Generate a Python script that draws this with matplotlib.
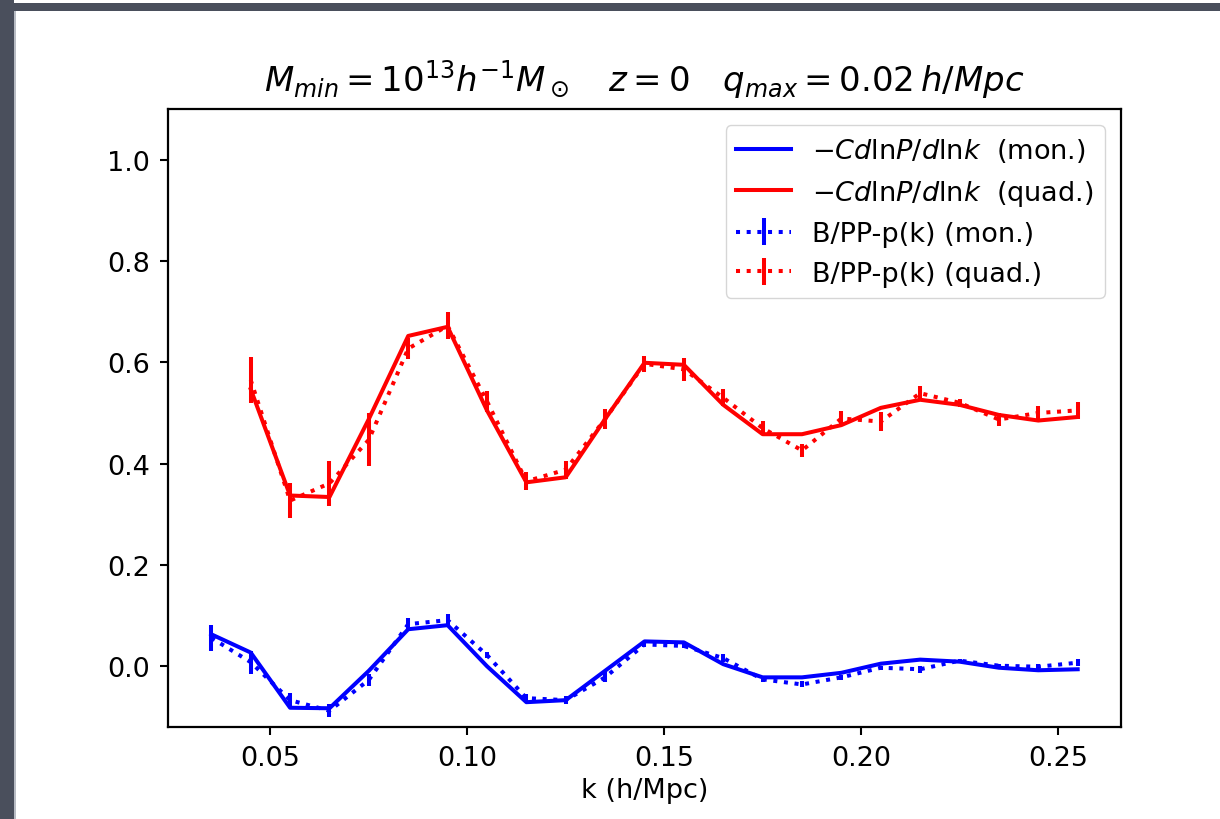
import numpy as np
import matplotlib
matplotlib.use("Agg")
import matplotlib.pyplot as plt
from matplotlib.patches import Rectangle

# k bins (h/Mpc)
k = [0.035, 0.045, 0.055, 0.065, 0.075, 0.085, 0.095, 0.105, 0.115, 0.125, 0.135, 0.145,
     0.155, 0.165, 0.175, 0.185, 0.195, 0.205, 0.215, 0.225, 0.235, 0.245, 0.255]

# -C dlnP/dlnk, monopole and quadrupole (quad starts at second bin)
resp_mon = [0.063, 0.027, -0.082, -0.083, -0.009, 0.073, 0.081, 0.000, -0.071, -0.067, -0.009, 0.049,
            0.047, 0.004, -0.022, -0.022, -0.013, 0.005, 0.013, 0.009, -0.003, -0.008, -0.006]
resp_quad = [0.547, 0.337, 0.334, 0.488, 0.652, 0.670, 0.505, 0.363, 0.373, 0.488, 0.599,
             0.595, 0.516, 0.458, 0.458, 0.476, 0.510, 0.526, 0.516, 0.496, 0.485, 0.492]

# B/PP - p(k) measurements with errors
bpp_mon = [0.056, 0.008, -0.067, -0.088, -0.027, 0.083, 0.091, 0.022, -0.063, -0.067, -0.022, 0.043,
           0.040, 0.016, -0.026, -0.036, -0.022, -0.003, -0.006, 0.011, 0.001, -0.001, 0.007]
bpp_mon_err = [0.026, 0.023, 0.015, 0.013, 0.012, 0.013, 0.012, 0.006, 0.008, 0.008, 0.010, 0.005,
               0.005, 0.008, 0.005, 0.006, 0.005, 0.004, 0.007, 0.004, 0.004, 0.005, 0.007]
bpp_quad = [0.565, 0.327, 0.361, 0.447, 0.627, 0.672, 0.523, 0.365, 0.388, 0.488, 0.597,
            0.586, 0.530, 0.470, 0.426, 0.489, 0.483, 0.539, 0.520, 0.487, 0.500, 0.505]
bpp_quad_err = [0.045, 0.034, 0.045, 0.052, 0.020, 0.027, 0.021, 0.018, 0.018, 0.020, 0.016,
                0.022, 0.017, 0.014, 0.013, 0.014, 0.019, 0.015, 0.008, 0.012, 0.013, 0.017]

plt.rcParams["font.size"] = 19.5

fig = plt.figure(figsize=(12.2, 8.2), dpi=100)
fig.patch.set_facecolor("white")
# slide border from the screenshot
fig.patches.append(Rectangle((0, 0), 14 / 1220, 1, transform=fig.transFigure,
                             facecolor="#4a4f5c", edgecolor="none", zorder=0))
fig.patches.append(Rectangle((0, 1 - 11.5 / 820), 1, 8 / 820, transform=fig.transFigure,
                             facecolor="#4a4f5c", edgecolor="none", zorder=0))
fig.patches.append(Rectangle((14 / 1220, 0), 1.5 / 1220, 1 - 11.5 / 820, transform=fig.transFigure,
                             facecolor="#b8bcc4", edgecolor="none", zorder=0))

ax = fig.add_axes([168 / 1220, 1 - 728 / 820, (1121 - 168) / 1220, (728 - 110) / 820])

lw = 2.9
ax.plot(k, resp_mon, color="b", lw=lw, label=r"$-Cd\mathrm{ln}P/d\mathrm{ln}k$  (mon.)")
ax.plot(k[1:], resp_quad, color="r", lw=lw, label=r"$-Cd\mathrm{ln}P/d\mathrm{ln}k$  (quad.)")
ax.errorbar(k, bpp_mon, yerr=bpp_mon_err, color="b", ls=":", lw=lw, elinewidth=lw,
            label="B/PP-p(k) (mon.)")
ax.errorbar(k[1:], bpp_quad, yerr=bpp_quad_err, color="r", ls=":", lw=lw, elinewidth=lw,
            label="B/PP-p(k) (quad.)")

ax.set_ylim(-0.12, 1.1)
ax.set_xticks([0.05, 0.10, 0.15, 0.20, 0.25])
ax.set_xticklabels(["0.05", "0.10", "0.15", "0.20", "0.25"])
ax.set_yticks([0.0, 0.2, 0.4, 0.6, 0.8, 1.0])
ax.set_yticklabels(["0.0", "0.2", "0.4", "0.6", "0.8", "1.0"])
ax.tick_params(width=1.5, length=6, pad=7)
for s in ax.spines.values():
    s.set_linewidth(1.6)

ax.set_xlabel("k (h/Mpc)", labelpad=4)
ax.set_title(r"$M_{min}=10^{13}h^{-1}M_\odot\ \ \ z=0\ \ \ q_{max}=0.02\,h/Mpc$",
             fontsize=24.5, pad=13)
ax.legend(loc="upper right", borderaxespad=0.6)

fig.savefig("out.png", dpi=100)
